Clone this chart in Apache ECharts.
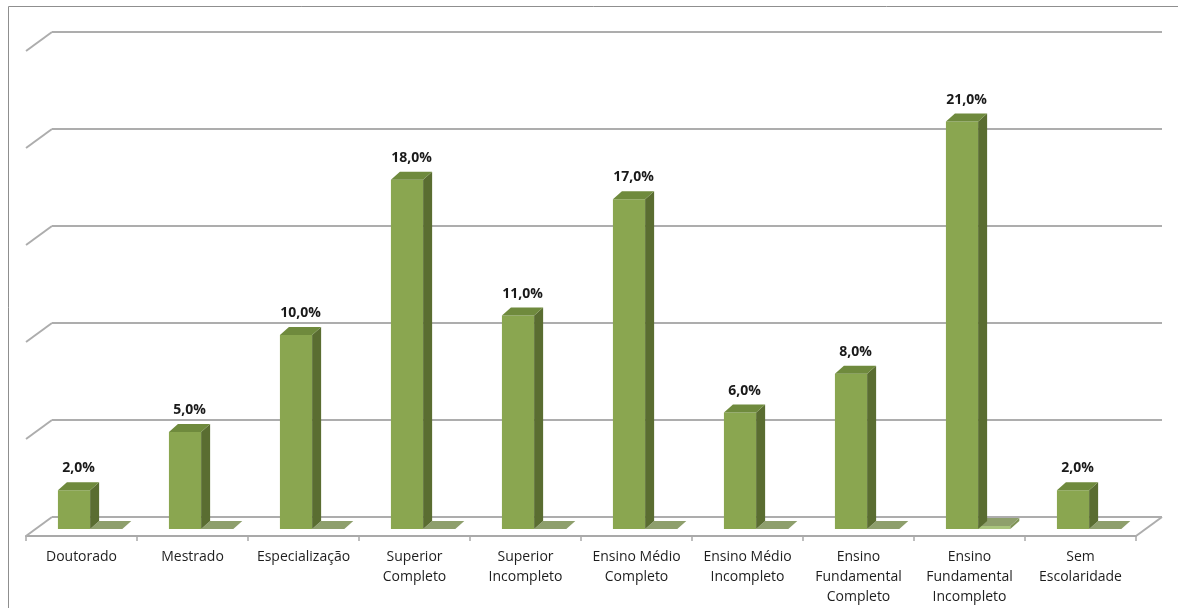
<!DOCTYPE html>
<html>
<head>
<meta charset="utf-8">
<script src="https://cdn.jsdelivr.net/npm/echarts@6/dist/echarts.min.js"></script>
<style>
html,body{margin:0;padding:0;background:#fff;}
#chart{width:1178px;height:608px;}
</style>
</head>
<body>
<div id="chart"></div>
<script>
const categories = ['Doutorado', 'Mestrado', 'Especialização', 'Superior\nCompleto', 'Superior\nIncompleto',
  'Ensino Médio\nCompleto', 'Ensino Médio\nIncompleto', 'Ensino\nFundamental\nCompleto',
  'Ensino\nFundamental\nIncompleto', 'Sem\nEscolaridade'];
const values = [2, 5, 10, 18, 11, 17, 6, 8, 21, 2];
const secondValues = [0, 0, 0, 0, 0, 0, 0, 0, 0.15, 0];
const gridTicks = [0, 5, 10, 15, 20, 25];

const WALL_DX = 26, WALL_DY = 19;   // floor depth projection
const BAR_T = 0.63;                  // bar front position, fraction of depth from back wall
const BAR_DX = 9, BAR_DY = 8;        // bar depth projection
const FONT = '"Open Sans", "Liberation Sans", sans-serif';

const chart = echarts.init(document.getElementById('chart'));

function barShape(x0, x1, topY, baseY, colors, children, withFront) {
  if (withFront && baseY - topY > 0.3) {
    children.push({type: 'rect', shape: {x: x0, y: topY, width: x1 - x0, height: baseY - topY},
      style: {fill: colors.front}});
    children.push({type: 'polygon', shape: {points: [[x1, topY], [x1 + BAR_DX, topY - BAR_DY], [x1 + BAR_DX, baseY - BAR_DY], [x1, baseY]]},
      style: {fill: colors.side}});
  }
  children.push({type: 'polygon', shape: {points: [[x0, topY], [x0 + BAR_DX, topY - BAR_DY], [x1 + BAR_DX, topY - BAR_DY], [x1, topY]]},
    style: {fill: colors.top}});
}

const option = {
  animation: false,
  graphic: [{
    type: 'rect', shape: {x: 8.5, y: 6.5, width: 1300, height: 800},
    style: {fill: 'none', stroke: '#8f8f8f', lineWidth: 1}, z: -10
  }],
  grid: [
    {left: 52, right: 16, top: 32, bottom: 91},
    {left: 26, right: 42, top: 520, bottom: 72}
  ],
  xAxis: [
    {type: 'category', gridIndex: 0, data: categories, show: false},
    {type: 'category', gridIndex: 1, data: categories,
      axisLine: {show: true, lineStyle: {color: '#a9a9a9', width: 2}},
      axisTick: {show: true, interval: 0, length: 5, lineStyle: {color: '#a9a9a9', width: 1.5}},
      axisLabel: {interval: 0, margin: 11, color: '#1e1e1e', fontSize: 14, fontFamily: FONT, lineHeight: 20}
    }
  ],
  yAxis: [
    {type: 'value', gridIndex: 0, min: 0, max: 25, interval: 5,
      axisLine: {show: false}, axisTick: {show: false}, axisLabel: {show: false},
      splitLine: {show: true, lineStyle: {color: '#adadad', width: 2}}},
    {type: 'value', gridIndex: 1, show: false, splitLine: {show: false}}
  ],
  series: [
    {
      type: 'custom', xAxisIndex: 0, yAxisIndex: 0, silent: true,
      data: gridTicks.map(v => [0, v]),
      renderItem: function (params, api) {
        const v = api.value(1);
        const band = api.size([1, 0])[0];
        const p = api.coord([0, v]);
        const left = p[0] - band / 2;
        const children = [{type: 'line', shape: {x1: left, y1: p[1], x2: left - WALL_DX, y2: p[1] + WALL_DY},
          style: {stroke: '#adadad', lineWidth: 2}}];
        if (v === 0) {
          const r = api.coord([categories.length - 1, 0]);
          const right = r[0] + band / 2;
          children.push({type: 'line', shape: {x1: right, y1: r[1], x2: right - WALL_DX, y2: r[1] + WALL_DY},
            style: {stroke: '#adadad', lineWidth: 2}});
        }
        return {type: 'group', children: children};
      }
    },
    {
      type: 'custom', xAxisIndex: 0, yAxisIndex: 0, silent: true, clip: false,
      data: values.map((v, i) => [i, v, secondValues[i]]),
      renderItem: function (params, api) {
        const i = api.value(0), v = api.value(1), v2 = api.value(2);
        const band = api.size([1, 0])[0];
        const barW = band * 0.29;
        const base = api.coord([i, 0]);
        const top = api.coord([i, v]);
        const top2 = api.coord([i, v2]);
        const cx = base[0] - WALL_DX * BAR_T - 1;
        const baseY = base[1] + WALL_DY * BAR_T;
        const topY = top[1] + WALL_DY * BAR_T;
        const top2Y = top2[1] + WALL_DY * BAR_T;
        const children = [];
        barShape(cx, cx + barW, top2Y, baseY, {front: '#a9c47d', side: '#7f9356', top: '#8e9f6c'}, children, true);
        barShape(cx - barW, cx, topY, baseY, {front: '#8aa650', side: '#5a6d31', top: '#6f8a3d'}, children, true);
        children.push({
          type: 'text',
          style: {
            x: cx - barW / 2 + BAR_DX / 2, y: topY - BAR_DY - 7,
            text: v.toFixed(1).replace('.', ',') + '%',
            align: 'center', verticalAlign: 'bottom',
            fill: '#1a1a1a', font: 'bold 14px ' + FONT
          }
        });
        return {type: 'group', children: children};
      }
    }
  ]
};
chart.setOption(option);
</script>
</body>
</html>
